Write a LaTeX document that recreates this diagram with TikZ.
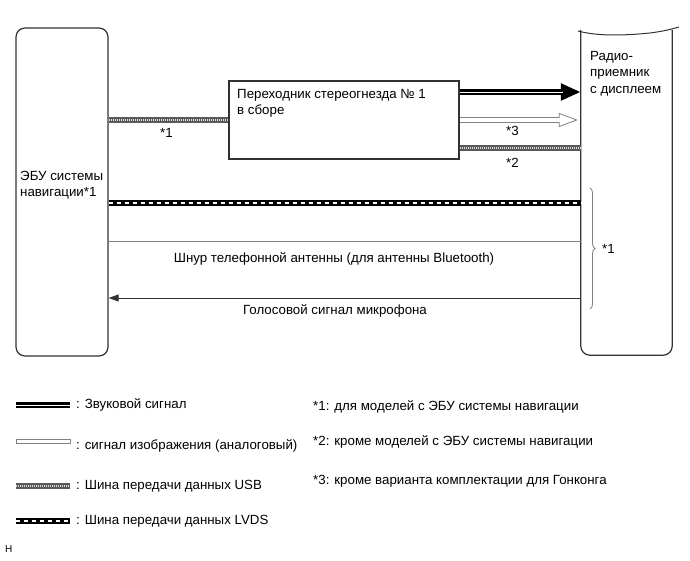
\documentclass[tikz,border=0pt]{standalone}
\usepackage{fontspec}
\setmainfont{Liberation Sans}
\usepackage{tikz}
\usetikzlibrary{arrows.meta,decorations.pathreplacing}
\definecolor{edge}{RGB}{50,50,50}
\definecolor{wire}{RGB}{130,130,130}

\begin{document}
\begin{tikzpicture}[x=1pt, y=-1pt, font=\fontsize{13.3}{16.5}\selectfont,
  unit/.style={draw=edge, line width=1.2pt, rounded corners=9pt, inner sep=0pt},
  usb/.style={line width=5.5pt, black!65, postaction={draw, white!85!black, line width=1.5pt, dash pattern=on 1pt off 1pt}},
  audio/.style={line width=6pt, black, postaction={draw, white, line width=0.7pt, -, shorten >=#1}},
  audio/.default=0pt,
  video/.style={line width=5.6pt, wire, postaction={draw, white, line width=3.6pt, -, shorten >=#1}},
  video/.default=0pt,
  lvds/.style={line width=6pt, black, postaction={draw, white, line width=2.6pt, dash pattern=on 4pt off 4pt}},
  cable/.style={line width=0.8pt, wire},
  note/.style={anchor=west, inner sep=0pt}]
\useasboundingbox (0,0) rectangle (690,561);
% units
\node[unit, minimum width=92pt, minimum height=328pt] (ecu) at (62,192) {};
\node[note, align=left] (ecutext) at (20,185) {ЭБУ системы\\навигации*1};
\node[inner sep=0pt, minimum width=91pt, minimum height=325pt] (radio) at (626.5,192.5) {};
\draw[draw=edge, line width=1.2pt, rounded corners=9pt] (radio.north west) -- (radio.south west) -- (radio.south east) -- (radio.north east);
\draw[draw=edge, line width=1pt] (578,31) .. controls (600,37) and (630,35) .. (650,33) .. controls (665,31) and (672,29) .. (679,27);
\node[note, anchor=north west, align=left] (radiotext) at (590,51) {Радио-\\приемник\\с дисплеем};
\node[draw=edge, line width=1.2pt, minimum width=230pt, minimum height=78pt, inner sep=0pt] (adapter) at (344,120) {};
\node[note, anchor=north west, align=left] (adaptertext) at (237,89) {Переходник стереогнезда № 1\\в сборе};
% connectors
\draw[usb] (ecu.east |- adapter.west) -- (adapter.west);
\node[note] (n1) at (160,133) {*1};
\draw[audio=18pt, -{Triangle[length=20pt, width=16pt]}] (adapter.east |- 0,92) -- (radio.west |- 0,92);
\draw[video=17pt, -{Triangle[open, fill=white, length=19pt, width=14pt, line width=0.8pt]}] (adapter.east) -- ([xshift=-3pt]radio.west |- adapter.east);
\node[note] (n3) at (506,131) {*3};
\draw[usb] (adapter.east |- 0,148) -- (radio.west |- 0,148);
\node[note] (n2) at (506,163) {*2};
\draw[lvds] (ecu.east |- 0,203) -- (radio.west |- 0,203);
\draw[cable] (ecu.east |- 0,241) -- (radio.west |- 0,241);
\node (bt) at (334,259) {Шнур телефонной антенны (для антенны Bluetooth)};
\draw[line width=0.8pt, edge, -{Triangle[length=10pt, width=7pt]}] (radio.west |- 0,298) -- (ecu.east |- 0,298);
\node (mic) at (335,311) {Голосовой сигнал микрофона};
\draw[wire, line width=0.9pt, decorate, decoration={brace, amplitude=5pt}] (590,188) -- (590,309);
\node[note] (n1b) at (602,249) {*1};
% legend
\coordinate (l1) at (16,405); \coordinate (l2) at (16,446); \coordinate (l3) at (16,486); \coordinate (l4) at (16,521);
\draw[audio] (l1) -- ++(54,0);
\draw[wire, fill=white, line width=1pt] ([yshift=2.3pt]l2) rectangle ++(54,-4.6);
\draw[usb] (l3) -- ++(54,0);
\draw[lvds] (l4) -- ++(54,0);
\node[note] at (76,405) {: Звуковой сигнал};
\node[note] at (76,446) {: сигнал изображения (аналоговый)};
\node[note] at (76,486) {: Шина передачи данных USB};
\node[note] at (76,521) {: Шина передачи данных LVDS};
\node[note] at (313,407) {*1: для моделей с ЭБУ системы навигации};
\node[note] at (313,442) {*2: кроме моделей с ЭБУ системы навигации};
\node[note] at (313,481) {*3: кроме варианта комплектации для Гонконга};
\node[note, font=\fontsize{10}{12}\selectfont] at (5,549) {H};
\end{tikzpicture}
\end{document}
